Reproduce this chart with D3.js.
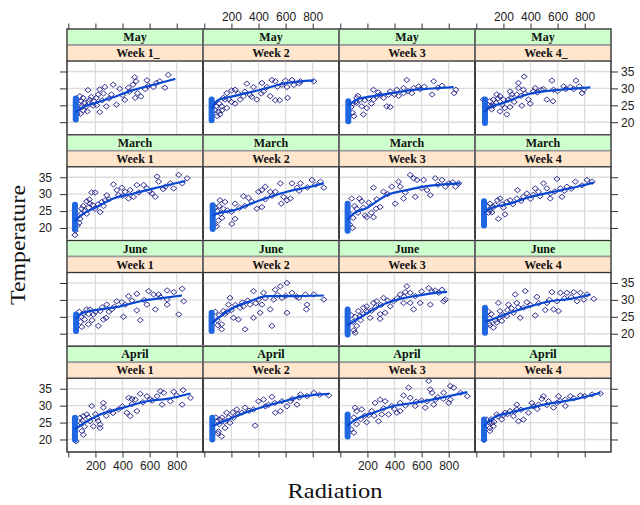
<!DOCTYPE html>
<html><head><meta charset="utf-8">
<script src="https://cdn.jsdelivr.net/npm/d3@7"></script>
<style>body{margin:0;background:#fff}svg{display:block}</style>
</head><body>
<svg id="c" width="640" height="505"></svg>
<script>
// ---------- labels / ticks ----------
const monthLabels = ["May", "March", "June", "April"];
const weekLabels = [
  ["Week 1_", "Week 2", "Week 3", "Week 4_"],
  ["Week 1", "Week 2", "Week 3", "Week 4"],
  ["Week 1", "Week 2", "Week 3", "Week 4"],
  ["Week 1", "Week 2", "Week 3", "Week 4"]
];
const xTicks = [0, 200, 400, 600, 800];
const yTicks = [20, 25, 30, 35];
const xTitle = "Radiation";
const yTitle = "Temperature";

// ---------- points [radiation, temperature] ----------
const may1 = [[738,34.0],[713,30.2],[650,31.6],[580,32.4],[490,33.3],[500,32.1],[477,31.1],[511,28.6],[494,27.2],[536,27.6],[443,30.2],[380,29.9],[331,31.1],[318,28.2],[269,30.4],[232,29.7],[220,28.2],[207,27.2],[145,29.5],[158,26.6],[109,27.2],[84,27.7],[96,26.2],[133,24.7],[183,24.9],[232,23.0],[281,24.7],[355,25.2],[417,26.6],[567,29.8],[628,30.4],[591,30.8],[675,32.1],[59,26.7],[70,25.5],[75,24.0],[65,22.5],[100,24.5],[120,25.8],[150,26.0],[170,27.5],[190,26.2],[210,25.0],[250,26.5],[300,27.0],[90,22.5],[110,23.5],[140,23.2],[260,28.5],[400,28.0],[450,29.0]];
const may2 = [[808,32.1],[709,32.1],[647,32.5],[598,32.3],[610,30.4],[615,27.2],[556,26.5],[524,26.5],[573,31.1],[499,32.5],[524,32.1],[425,31.6],[462,30.4],[437,29.1],[363,30.4],[314,31.4],[338,28.1],[289,27.7],[264,26.7],[227,29.6],[202,29.4],[166,28.6],[153,26.7],[128,24.7],[104,23.2],[116,22.3],[166,24.2],[227,25.5],[388,26.7],[486,27.7],[70,25.5],[80,23.5],[90,24.8],[110,25.5],[140,27.2],[180,26.8],[200,26.0],[250,28.5],[300,29.0],[95,21.8],[130,23.5],[350,27.5],[420,28.5],[540,30.5],[660,31.0],[700,31.5]];
const may3 = [[689,32.1],[751,30.8],[853,29.6],[840,28.6],[677,28.2],[590,29.8],[541,30.1],[528,28.6],[491,32.5],[467,30.1],[417,29.6],[368,29.1],[356,28.1],[294,28.1],[245,29.6],[269,27.7],[146,26.7],[121,27.2],[158,24.7],[171,22.3],[195,24.2],[121,25.7],[245,26.7],[343,24.7],[368,24.5],[467,28.6],[578,30.6],[80,24.5],[90,22.8],[95,25.5],[110,26.0],[130,27.8],[180,26.5],[210,27.0],[230,25.5],[280,28.8],[320,27.2],[400,28.2],[430,27.8],[500,29.2],[620,30.5],[720,30.2],[100,21.8]];
const may4 = [[353,33.5],[558,32.3],[736,32.3],[645,30.6],[694,30.4],[793,29.6],[781,28.6],[719,29.8],[570,29.6],[566,26.2],[496,29.8],[435,30.1],[422,29.1],[385,26.7],[348,29.6],[311,30.1],[299,28.2],[262,28.2],[249,29.1],[237,26.7],[200,26.7],[175,27.7],[151,28.2],[126,26.7],[146,25.7],[225,22.3],[175,23.2],[52,26.7],[114,23.8],[398,25.5],[336,24.9],[249,24.5],[311,31.6],[521,26.7],[90,25.0],[100,26.2],[110,24.8],[130,25.0],[160,27.0],[190,25.2],[210,24.2],[260,27.2],[280,26.0],[330,27.8],[360,28.5],[450,28.8],[480,29.6],[600,29.2],[660,29.8],[760,30.6]];
const mar1 = [[815,35.7],[877,34.7],[840,33.2],[753,33.2],[778,31.7],[716,32.2],[655,35.2],[667,33.7],[642,29.2],[618,30.2],[580,31.7],[556,32.7],[506,32.7],[457,31.2],[444,28.7],[481,29.2],[420,30.7],[395,31.9],[358,31.2],[333,32.9],[370,29.7],[284,29.7],[247,27.7],[235,24.7],[198,25.7],[160,27.2],[156,28.4],[173,30.5],[198,30.5],[136,27.9],[99,25.7],[86,22.7],[67,20.7],[136,24.2],[272,28.2],[49,17.9],[52,19.2],[95,24.2],[110,26.5],[120,25.0],[150,26.0],[180,26.8],[220,27.0],[260,26.5],[300,28.5],[400,29.5],[520,30.5],[600,30.8],[700,31.5],[80,21.5]];
const mar2 = [[857,33.7],[882,31.9],[795,34.2],[709,33.2],[684,31.9],[647,33.2],[635,28.7],[585,29.2],[561,33.2],[524,30.7],[487,30.7],[450,32.2],[425,31.2],[400,30.7],[388,25.7],[425,26.2],[289,29.4],[326,28.9],[227,27.2],[227,22.7],[203,21.2],[116,28.2],[153,27.7],[141,25.7],[121,24.2],[104,22.2],[568,27.2],[610,28.2],[80,26.0],[75,21.0],[95,25.0],[110,26.5],[130,23.0],[170,25.2],[200,24.8],[260,26.0],[300,26.5],[350,27.8],[450,28.5],[500,29.5],[700,31.0],[760,32.0],[820,32.8],[90,20.5]];
const mar3 = [[84,28.7],[141,28.7],[121,25.7],[183,23.7],[195,23.2],[245,23.2],[245,31.9],[319,30.7],[380,32.2],[430,33.7],[442,32.2],[467,28.7],[405,27.2],[516,35.7],[566,34.2],[294,26.2],[264,25.7],[158,27.9],[541,34.7],[615,34.2],[640,31.2],[664,29.7],[553,29.2],[701,34.7],[751,34.2],[800,33.2],[850,32.2],[874,33.2],[775,32.2],[70,21.0],[75,24.0],[95,23.0],[105,26.5],[130,24.5],[170,26.0],[210,27.5],[230,24.5],[270,28.5],[350,30.0],[480,30.5],[600,31.8],[720,32.8],[830,33.5],[90,20.0]];
const mar4 = [[855,33.7],[817,34.2],[731,33.7],[669,32.2],[620,31.7],[595,34.5],[632,29.2],[546,30.2],[521,31.7],[496,33.2],[459,30.7],[435,31.7],[373,30.2],[348,29.2],[304,31.2],[299,28.7],[249,28.2],[225,27.7],[175,28.7],[156,28.2],[163,22.7],[212,24.0],[101,27.2],[126,26.2],[546,28.7],[80,26.5],[90,24.5],[100,25.2],[115,24.6],[140,26.8],[190,27.0],[200,26.0],[270,27.0],[330,28.0],[400,28.6],[420,29.8],[470,29.4],[580,30.8],[700,31.6],[780,32.6],[650,31.0]];
const jun1 = [[840,33.3],[778,32.3],[729,32.8],[729,28.6],[815,25.7],[852,29.6],[667,31.6],[593,32.6],[630,31.6],[506,31.8],[445,31.1],[506,26.9],[531,24.0],[407,25.0],[395,29.3],[358,29.6],[321,27.2],[284,28.6],[279,24.7],[259,24.2],[235,26.7],[160,27.2],[185,25.7],[222,22.3],[148,22.8],[136,27.2],[642,27.2],[580,28.6],[729,30.1],[80,26.5],[90,23.5],[95,25.0],[110,26.0],[120,24.2],[150,25.8],[175,24.0],[200,26.5],[250,27.8],[300,26.5],[340,28.0],[420,28.6],[470,29.8],[560,30.0],[680,30.8],[100,22.0]];
const jun2 = [[882,30.1],[808,31.6],[746,31.6],[758,28.6],[753,27.2],[697,30.6],[647,32.1],[610,35.0],[610,26.2],[573,30.6],[561,34.0],[524,33.0],[512,30.1],[486,27.2],[499,22.3],[437,32.1],[425,28.6],[400,30.1],[363,32.6],[363,24.7],[412,26.2],[338,28.6],[301,21.3],[289,28.1],[252,24.2],[215,24.7],[190,30.6],[178,28.6],[141,26.7],[128,22.8],[128,21.3],[264,27.7],[80,26.5],[95,24.0],[110,25.5],[150,25.8],[170,26.5],[200,27.0],[230,28.5],[280,29.2],[320,29.8],[380,29.0],[450,30.5],[540,31.5],[600,31.2],[680,31.0],[100,22.5]];
const jun3 = [[491,34.0],[479,32.3],[467,29.1],[516,29.1],[541,27.2],[442,31.6],[393,29.6],[368,28.1],[319,30.6],[269,29.6],[245,29.1],[195,28.1],[171,27.7],[133,26.7],[146,25.2],[121,22.3],[109,20.3],[294,24.4],[294,25.8],[220,24.7],[331,26.2],[652,33.5],[677,32.5],[763,29.6],[775,30.1],[664,28.6],[590,29.1],[553,31.1],[516,32.1],[751,33.0],[726,32.1],[80,25.5],[95,23.5],[110,25.0],[150,24.0],[170,25.8],[200,26.5],[230,26.8],[260,27.8],[300,28.5],[350,29.8],[420,30.5],[470,31.0],[600,32.5],[700,32.8],[100,21.0]];
const jun4 = [[867,30.3],[818,31.6],[768,32.1],[719,32.3],[669,32.1],[620,32.1],[558,32.3],[595,29.6],[570,27.2],[607,26.7],[521,29.1],[509,27.0],[447,30.9],[435,25.4],[373,29.3],[361,32.6],[348,27.7],[299,29.1],[287,31.6],[274,26.2],[237,28.6],[225,25.2],[175,26.7],[163,29.1],[151,23.3],[188,23.8],[126,21.8],[324,24.7],[743,29.6],[793,30.1],[90,26.5],[95,23.0],[100,24.5],[110,25.8],[140,24.0],[170,24.8],[200,25.5],[230,27.0],[260,27.5],[310,27.8],[400,28.5],[460,29.0],[540,30.0],[650,30.5],[700,30.8],[100,22.5]];
const apr1 = [[902,32.3],[847,34.6],[840,30.3],[778,34.1],[753,31.3],[704,33.8],[679,34.3],[692,30.3],[655,32.8],[605,31.8],[580,32.8],[531,33.5],[494,31.8],[469,32.0],[445,32.3],[506,28.4],[457,26.9],[432,27.9],[370,28.9],[309,28.4],[259,29.4],[259,30.8],[173,29.9],[210,26.4],[235,24.4],[235,23.4],[185,23.9],[160,25.4],[111,26.9],[136,27.4],[86,26.4],[111,21.4],[57,19.5],[95,24.8],[105,25.5],[120,23.8],[150,26.5],[200,27.5],[220,25.5],[280,27.0],[330,27.8],[400,29.8],[470,30.5],[550,31.0],[620,31.5],[800,33.0],[100,22.5]];
const apr2 = [[919,33.0],[808,33.8],[758,32.8],[709,33.3],[684,30.3],[635,31.3],[610,29.8],[573,31.3],[561,28.4],[524,27.9],[499,32.6],[474,30.3],[437,31.8],[400,31.3],[363,28.9],[375,24.1],[301,29.4],[277,27.9],[240,28.9],[215,26.4],[190,24.9],[165,27.9],[153,23.4],[116,25.9],[128,20.9],[104,22.4],[85,26.5],[95,25.5],[110,24.5],[130,26.5],[150,25.2],[180,26.5],[210,28.0],[250,27.5],[330,28.5],[450,29.8],[520,30.8],[650,32.0],[700,32.4],[850,33.2],[100,21.8]];
const apr3 = [[121,28.4],[109,29.4],[158,28.9],[195,25.1],[232,28.4],[257,30.8],[294,31.8],[331,31.3],[306,27.4],[356,27.4],[380,29.9],[442,30.8],[467,33.0],[504,35.3],[516,32.3],[417,27.9],[442,28.4],[282,25.4],[652,37.3],[664,34.8],[677,33.8],[640,31.3],[553,29.9],[627,29.4],[689,30.3],[812,35.8],[837,35.3],[763,33.8],[812,31.8],[937,32.8],[887,33.8],[701,31.8],[800,30.8],[80,23.0],[100,26.5],[120,24.5],[150,26.0],[180,27.0],[210,27.2],[250,27.0],[320,29.2],[400,29.0],[480,30.0],[560,31.2],[600,31.5],[720,32.5],[760,32.0],[100,22.0]];
const apr4 = [[916,33.6],[855,33.3],[768,33.0],[694,32.8],[657,31.8],[657,29.9],[607,32.8],[595,30.8],[570,29.4],[533,31.3],[496,32.8],[484,32.0],[459,30.3],[410,30.8],[385,27.9],[348,25.9],[311,25.4],[299,30.3],[299,28.9],[249,28.4],[212,27.9],[188,25.9],[151,27.4],[114,24.9],[101,23.4],[126,23.9],[77,25.9],[274,26.9],[57,19.8],[95,25.0],[110,26.0],[130,25.2],[160,26.8],[200,27.2],[230,27.5],[280,28.2],[330,28.8],[420,29.8],[450,29.0],[520,30.2],[620,31.4],[720,32.2],[800,32.8],[100,22.5]];

// ---------- smooth fits [radiation, temperature] ----------
const fitMay1 = [[55,23.0],[84,23.9],[207,25.8],[355,27.7],[477,29.5],[600,30.8],[790,32.8]];
const fitMay2 = [[54,24.0],[100,26.5],[215,27.7],[412,29.6],[610,31.6],[808,32.4]];
const fitMay3 = [[59,25.0],[130,26.8],[245,27.7],[393,28.7],[520,29.5],[650,29.9],[837,30.4]];
const fitMay4 = [[64,23.0],[89,24.2],[200,25.7],[373,28.2],[496,29.1],[620,29.6],[842,30.3]];
const fitMar1 = [[49,22.0],[86,23.5],[210,26.2],[333,28.7],[481,30.2],[630,31.7],[865,33.9]];
const fitMar2 = [[62,23.5],[91,24.2],[215,25.2],[412,28.2],[610,30.7],[783,32.2],[882,33.2]];
const fitMar3 = [[54,22.5],[96,24.2],[195,25.9],[343,29.7],[491,31.2],[664,32.5],[887,33.2]];
const fitMar4 = [[57,24.5],[101,25.7],[249,27.2],[398,29.2],[570,30.7],[743,32.2],[867,33.4]];
const fitJun1 = [[57,24.5],[111,26.2],[235,27.2],[383,28.1],[531,29.6],[704,30.6],[840,31.3]];
const fitJun2 = [[54,23.0],[104,24.7],[215,27.7],[338,29.6],[462,31.1],[635,31.1],[882,31.3]];
const fitJun3 = [[54,22.5],[121,24.2],[245,27.2],[343,29.1],[442,30.3],[530,31.0],[650,31.8],[788,32.4]];
const fitJun4 = [[64,23.5],[114,24.2],[249,26.2],[398,28.1],[546,29.6],[694,30.3],[842,31.6]];
const fitApr1 = [[49,23.0],[99,24.4],[235,27.4],[408,29.4],[580,31.3],[729,32.0],[902,33.6]];
const fitApr2 = [[59,24.0],[116,24.9],[264,27.4],[412,29.4],[585,31.3],[734,32.8],[919,33.5]];
const fitApr3 = [[54,24.0],[96,25.4],[245,27.9],[393,29.9],[541,30.8],[640,31.5],[937,34.0]];
const fitApr4 = [[57,24.0],[126,26.4],[249,27.9],[398,29.4],[570,30.8],[743,32.0],[916,33.8]];

// ---------- dense low-radiation clusters [radiation, tMin, tMax] ----------
const blobMay = [[55,20.8,27.0],[54,20.6,26.7],[59,20.3,26.2],[64,19.8,26.7]];
const blobMar = [[49,19.7,26.9],[62,19.7,26.7],[54,19.2,27.2],[57,20.7,27.9]];
const blobJun = [[57,20.8,25.7],[54,20.8,26.2],[54,19.8,27.2],[64,20.3,27.7]];
const blobApr = [[49,20.0,26.4],[59,20.0,26.4],[54,20.9,27.4],[57,20.0,25.9]];

const points = [[may1,may2,may3,may4],[mar1,mar2,mar3,mar4],[jun1,jun2,jun3,jun4],[apr1,apr2,apr3,apr4]];
const fits = [[fitMay1,fitMay2,fitMay3,fitMay4],[fitMar1,fitMar2,fitMar3,fitMar4],[fitJun1,fitJun2,fitJun3,fitJun4],[fitApr1,fitApr2,fitApr3,fitApr4]];
const blobs = [blobMay, blobMar, blobJun, blobApr];

// ---------- layout ----------
const svg = d3.select("#c");
const L = 67, colW = 136, T = 29, rowH = 105.75, stripH = 16;
const xDomain = [-9.6, 994], yDomain = [16.3, 38.1];
const ptCol = "#1e1e88", lineCol = "#0a48d2", blobCol = "#1f66e0";
const gridCol = "#dcdcdc";
const tickFont = "'Liberation Sans', Arial, sans-serif";

const diamond = { draw(ctx, size) { const w = 3.1, h = 2.6; ctx.moveTo(0,-h); ctx.lineTo(w,0); ctx.lineTo(0,h); ctx.lineTo(-w,0); ctx.closePath(); } };

for (let r = 0; r < 4; r++) {
  for (let c = 0; c < 4; c++) {
    const x0 = L + c * colW, y0 = T + r * rowH;
    const py0 = y0 + 2 * stripH, py1 = y0 + rowH;
    const x = d3.scaleLinear().domain(xDomain).range([x0, x0 + colW]);
    const y = d3.scaleLinear().domain(yDomain).range([py1, py0]);
    const g = svg.append("g");

    // strips
    g.append("rect").attr("x", x0).attr("y", y0).attr("width", colW).attr("height", stripH)
      .attr("fill", "#ccffcc").attr("stroke", "#9a9a9a").attr("stroke-width", 1.6);
    g.append("rect").attr("x", x0).attr("y", y0 + stripH).attr("width", colW).attr("height", stripH)
      .attr("fill", "#ffe5cc").attr("stroke", "#9a9a9a").attr("stroke-width", 1.6);
    g.append("text").attr("x", x0 + colW / 2).attr("y", y0 + stripH / 2 + 4)
      .attr("text-anchor", "middle").attr("font-family", "'Liberation Serif', 'Times New Roman', serif")
      .attr("font-weight", "bold").attr("font-size", 12).attr("fill", "#111").text(monthLabels[r]);
    const wl = weekLabels[r][c];
    g.append("text").attr("x", x0 + colW / 2 + (wl.endsWith("_") ? 3 : 0)).attr("y", y0 + stripH * 1.5 + 4)
      .attr("text-anchor", "middle").attr("font-family", "'Liberation Serif', 'Times New Roman', serif")
      .attr("font-weight", "bold").attr("font-size", 12).attr("fill", "#111").text(wl);

    // grid
    g.append("g").selectAll("line").data(xTicks.filter(d => d > 0)).join("line")
      .attr("x1", d => x(d)).attr("x2", d => x(d)).attr("y1", py0).attr("y2", py1)
      .attr("stroke", gridCol).attr("stroke-width", 1.3);
    g.append("g").selectAll("line").data(yTicks).join("line")
      .attr("x1", x0).attr("x2", x0 + colW).attr("y1", d => y(d)).attr("y2", d => y(d))
      .attr("stroke", gridCol).attr("stroke-width", 1.3);

    // points
    g.append("g").selectAll("path").data(points[r][c]).join("path")
      .attr("d", d3.symbol().type(diamond))
      .attr("transform", d => `translate(${x(d[0])},${y(d[1])})`)
      .attr("fill", "none").attr("stroke", ptCol).attr("stroke-width", 0.9);

    // dense cluster
    const b = blobs[r][c];
    g.append("line").attr("x1", x(b[0])).attr("x2", x(b[0])).attr("y1", y(b[1])).attr("y2", y(b[2]))
      .attr("stroke", blobCol).attr("stroke-width", 6).attr("stroke-linecap", "round");

    // smooth
    g.append("path").datum(fits[r][c])
      .attr("d", d3.line().x(d => x(d[0])).y(d => y(d[1])).curve(d3.curveMonotoneX))
      .attr("fill", "none").attr("stroke", lineCol).attr("stroke-width", 2.2);

    // panel border
    g.append("rect").attr("x", x0).attr("y", py0).attr("width", colW).attr("height", py1 - py0)
      .attr("fill", "none").attr("stroke", "#333").attr("stroke-width", 1);
    g.append("rect").attr("x", x0).attr("y", y0).attr("width", colW).attr("height", rowH)
      .attr("fill", "none").attr("stroke", "#333").attr("stroke-width", 1);

    // axes
    const fmtX = show => (d => (show && d > 0) ? d : "");
    const fmtY = show => (d => show ? d : "");
    if (r === 0) {
      const ax = svg.append("g").attr("transform", `translate(0,${y0})`)
        .call(d3.axisTop(x).tickValues(xTicks).tickSize(5.5).tickPadding(3).tickFormat(fmtX(c % 2 === 1)));
      styleAxis(ax);
    }
    if (r === 3) {
      const ax = svg.append("g").attr("transform", `translate(0,${py1})`)
        .call(d3.axisBottom(x).tickValues(xTicks).tickSize(5.5).tickPadding(4).tickFormat(fmtX(c % 2 === 0)));
      styleAxis(ax);
    }
    if (c === 0) {
      const ax = svg.append("g").attr("transform", `translate(${x0},0)`)
        .call(d3.axisLeft(y).tickValues(yTicks).tickSize(7).tickPadding(8).tickFormat(fmtY(r % 2 === 1)));
      styleAxis(ax);
    }
    if (c === 3) {
      const ax = svg.append("g").attr("transform", `translate(${x0 + colW},0)`)
        .call(d3.axisRight(y).tickValues(yTicks).tickSize(7).tickPadding(3).tickFormat(fmtY(r % 2 === 0)));
      styleAxis(ax);
    }
  }
}

function styleAxis(ax) {
  ax.select(".domain").remove();
  ax.selectAll(".tick line").attr("stroke", "#333");
  ax.selectAll(".tick text").attr("font-family", tickFont).attr("font-size", 12).attr("fill", "#222");
}

// titles
svg.append("text").attr("x", 335).attr("y", 498).attr("text-anchor", "middle")
  .attr("font-family", "'Liberation Serif', 'Times New Roman', serif").attr("font-size", 21)
  .attr("textLength", 95).attr("lengthAdjust", "spacingAndGlyphs").attr("fill", "#111").text(xTitle);
svg.append("text").attr("transform", "translate(25,245) rotate(-90)").attr("text-anchor", "middle")
  .attr("font-family", "'Liberation Serif', 'Times New Roman', serif").attr("font-size", 21)
  .attr("textLength", 120).attr("lengthAdjust", "spacingAndGlyphs").attr("fill", "#111").text(yTitle);
</script>
</body></html>
